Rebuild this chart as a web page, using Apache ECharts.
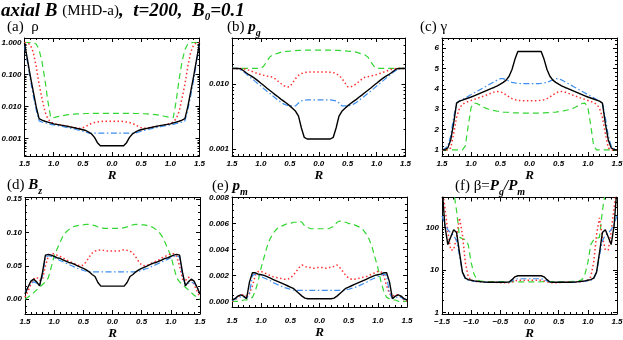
<!DOCTYPE html>
<html>
<head>
<meta charset="utf-8">
<script src="https://cdn.jsdelivr.net/npm/echarts@6/dist/echarts.min.js"></script>
<style>
  html, body { margin: 0; padding: 0; background: #fff; }
  #chart { width: 623px; height: 340px; }
</style>
</head>
<body>
<div id="chart"></div>
<script>
// radius grid shared by every panel
const R = [-1.5,-1.45,-1.4,-1.35,-1.3,-1.25,-1.2,-1.15,-1.1,-1.05,-1,-0.95,-0.9,-0.85,-0.8,-0.75,-0.7,-0.65,-0.6,-0.55,-0.5,-0.45,-0.4,-0.35,-0.3,-0.25,-0.2,-0.15,-0.1,-0.05,0,
  0.05,0.1,0.15,0.2,0.25,0.3,0.35,0.4,0.45,0.5,0.55,0.6,0.65,0.7,0.75,0.8,0.85,0.9,0.95,1,1.05,1.1,1.15,1.2,1.25,1.3,1.35,1.4,1.45,1.5];

// (a) density
const rhoBlack = [0.95,0.3,0.09,0.03,0.01,0.0042,0.0038,0.0035,0.0033,0.0031,0.0029,0.0028,0.0027,0.0026,0.0025,0.0024,0.0023,0.0022,0.0021,0.002,0.0019,0.0018,0.0016,0.0014,0.0011,0.00075,0.0006,0.0006,0.0006,0.0006,0.0006,
  0.0006,0.0006,0.0006,0.0006,0.00075,0.0011,0.0014,0.0016,0.0018,0.0019,0.002,0.0021,0.0022,0.0023,0.0024,0.0025,0.0026,0.0027,0.0028,0.0029,0.0031,0.0033,0.0035,0.0038,0.0042,0.01,0.03,0.09,0.3,0.95];
const rhoBlue = [0.8,0.25,0.07,0.022,0.008,0.0036,0.0033,0.0031,0.003,0.0028,0.0027,0.0026,0.0025,0.0024,0.0023,0.0022,0.0021,0.002,0.0019,0.0018,0.0017,0.0016,0.0015,0.0015,0.0015,0.0015,0.0015,0.0015,0.0015,0.0015,0.0015,
  0.0015,0.0015,0.0015,0.0015,0.0015,0.0015,0.0015,0.0015,0.0016,0.0017,0.0018,0.0019,0.002,0.0021,0.0022,0.0023,0.0024,0.0025,0.0026,0.0027,0.0028,0.003,0.0031,0.0033,0.0036,0.008,0.022,0.07,0.25,0.8];
const rhoRed = [1.0,0.97,0.85,0.5,0.18,0.05,0.018,0.007,0.0042,0.0033,0.003,0.0028,0.0027,0.0026,0.0025,0.0024,0.0023,0.0022,0.0022,0.0021,0.0022,0.0024,0.0027,0.003,0.0032,0.0033,0.0034,0.0035,0.0035,0.0035,0.0035,
  0.0035,0.0035,0.0035,0.0034,0.0033,0.0032,0.003,0.0027,0.0024,0.0022,0.0021,0.0022,0.0022,0.0023,0.0024,0.0025,0.0026,0.0027,0.0028,0.003,0.0033,0.0042,0.007,0.018,0.05,0.18,0.5,0.85,0.97,1.0];
const rhoGreen = [1.0,1.0,1.0,0.98,0.9,0.6,0.25,0.07,0.015,0.0045,0.0045,0.0048,0.005,0.0052,0.0054,0.0056,0.0057,0.0058,0.0059,0.006,0.006,0.0061,0.0061,0.0062,0.0062,0.0062,0.0062,0.0062,0.0062,0.0062,0.0062,
  0.0062,0.0062,0.0062,0.0062,0.0062,0.0062,0.0062,0.0061,0.0061,0.006,0.006,0.0059,0.0058,0.0057,0.0056,0.0054,0.0052,0.005,0.0048,0.0045,0.0045,0.015,0.07,0.25,0.6,0.9,0.98,1.0,1.0,1.0];

// (b) gas pressure
const pgBlack = [0.0174,0.0174,0.0174,0.0172,0.016,0.0148,0.0138,0.013,0.0121,0.0112,0.0103,0.0095,0.0087,0.008,0.0074,0.0068,0.0063,0.0058,0.0054,0.005,0.0046,0.0042,0.0038,0.0032,0.0021,0.0015,0.00142,0.00142,0.00142,0.00142,0.00142,
  0.00142,0.00142,0.00142,0.00142,0.0015,0.0021,0.0032,0.0038,0.0042,0.0046,0.005,0.0054,0.0058,0.0063,0.0068,0.0074,0.008,0.0087,0.0095,0.0103,0.0112,0.0121,0.013,0.0138,0.0148,0.016,0.0172,0.0174,0.0174,0.0174];
const pgBlue = [0.0174,0.0174,0.0172,0.0165,0.0155,0.0142,0.013,0.012,0.011,0.0101,0.0093,0.0085,0.0078,0.0072,0.0066,0.0061,0.0056,0.0052,0.0049,0.0047,0.0046,0.0046,0.0046,0.0051,0.0055,0.0056,0.0057,0.0057,0.0057,0.0057,0.0057,
  0.0057,0.0057,0.0057,0.0057,0.0056,0.0055,0.0051,0.0046,0.0046,0.0046,0.0047,0.0049,0.0052,0.0056,0.0061,0.0066,0.0072,0.0078,0.0085,0.0093,0.0101,0.011,0.012,0.013,0.0142,0.0155,0.0165,0.0172,0.0174,0.0174];
const pgRed = [0.0174,0.0174,0.0174,0.0174,0.0172,0.0168,0.0162,0.0156,0.015,0.0145,0.014,0.0136,0.0133,0.013,0.0128,0.012,0.011,0.0101,0.0094,0.009,0.0091,0.0105,0.0122,0.0136,0.0145,0.015,0.0152,0.0153,0.0153,0.0153,0.0153,
  0.0153,0.0153,0.0153,0.0152,0.015,0.0145,0.0136,0.0122,0.0105,0.0091,0.009,0.0094,0.0101,0.011,0.012,0.0128,0.013,0.0133,0.0136,0.014,0.0145,0.015,0.0156,0.0162,0.0168,0.0172,0.0174,0.0174,0.0174,0.0174];
const pgGreen = [0.0174,0.0174,0.0174,0.0174,0.0174,0.0174,0.0174,0.0174,0.0174,0.0174,0.0174,0.019,0.022,0.026,0.028,0.029,0.03,0.031,0.0315,0.032,0.0322,0.0325,0.0328,0.033,0.033,0.0332,0.0333,0.0333,0.0333,0.0333,0.0333,
  0.0333,0.0333,0.0333,0.0333,0.0332,0.033,0.033,0.0328,0.0325,0.0322,0.032,0.0315,0.031,0.03,0.029,0.028,0.026,0.022,0.019,0.0174,0.0174,0.0174,0.0174,0.0174,0.0174,0.0174,0.0174,0.0174,0.0174,0.0174];

// (c) Lorentz factor
const gamBlack = [1.0,1.02,1.1,1.5,2.3,3.3,3.4,3.45,3.5,3.55,3.6,3.66,3.72,3.78,3.84,3.9,3.96,4.02,4.08,4.15,4.23,4.32,4.43,4.62,4.95,5.45,5.84,5.84,5.84,5.84,5.84,
  5.84,5.84,5.84,5.84,5.45,4.95,4.62,4.43,4.32,4.23,4.15,4.08,4.02,3.96,3.9,3.84,3.78,3.72,3.66,3.6,3.55,3.5,3.45,3.4,3.3,2.3,1.5,1.1,1.02,1.0];
const gamBlue = [1.0,1.05,1.2,1.7,2.6,3.3,3.4,3.48,3.56,3.64,3.72,3.8,3.88,3.96,4.04,4.12,4.2,4.28,4.36,4.44,4.5,4.5,4.45,4.38,4.32,4.29,4.27,4.26,4.26,4.26,4.26,
  4.26,4.26,4.26,4.27,4.29,4.32,4.38,4.45,4.5,4.5,4.44,4.36,4.28,4.2,4.12,4.04,3.96,3.88,3.8,3.72,3.64,3.56,3.48,3.4,3.3,2.6,1.7,1.2,1.05,1.0];
const gamRed = [1.0,1.0,1.0,1.1,1.8,2.6,3.05,3.25,3.32,3.38,3.43,3.48,3.53,3.58,3.63,3.68,3.74,3.8,3.85,3.87,3.85,3.8,3.7,3.6,3.52,3.47,3.44,3.42,3.42,3.42,3.42,
  3.42,3.42,3.42,3.44,3.47,3.52,3.6,3.7,3.8,3.85,3.87,3.85,3.8,3.74,3.68,3.63,3.58,3.53,3.48,3.43,3.38,3.32,3.25,3.05,2.6,1.8,1.1,1.0,1.0,1.0];
const gamGreen = [1.0,1.0,1.0,1.0,1.0,1.0,1.0,1.0,1.2,2.2,3.1,3.3,3.28,3.2,3.12,3.05,3.0,2.96,2.93,2.9,2.88,2.86,2.85,2.84,2.83,2.82,2.82,2.81,2.81,2.81,2.81,
  2.81,2.81,2.81,2.82,2.82,2.83,2.84,2.85,2.86,2.88,2.9,2.93,2.96,3.0,3.05,3.12,3.2,3.28,3.3,3.1,2.2,1.2,1.0,1.0,1.0,1.0,1.0,1.0,1.0,1.0];

// (d) axial field
const bzBlack = [0.008,0.018,0.027,0.03,0.026,0.02,0.04,0.066,0.067,0.066,0.064,0.062,0.061,0.059,0.057,0.055,0.054,0.052,0.05,0.048,0.046,0.044,0.041,0.037,0.034,0.025,0.0197,0.0197,0.0197,0.0197,0.0197,
  0.0197,0.0197,0.0197,0.0197,0.025,0.034,0.037,0.041,0.044,0.046,0.048,0.05,0.052,0.054,0.055,0.057,0.059,0.061,0.062,0.064,0.066,0.067,0.066,0.04,0.02,0.026,0.03,0.027,0.018,0.008];
const bzBlue = [0.01,0.018,0.024,0.026,0.024,0.022,0.035,0.063,0.065,0.064,0.062,0.06,0.058,0.056,0.054,0.052,0.05,0.048,0.046,0.045,0.043,0.042,0.041,0.041,0.041,0.041,0.041,0.041,0.041,0.041,0.041,
  0.041,0.041,0.041,0.041,0.041,0.041,0.041,0.041,0.042,0.043,0.045,0.046,0.048,0.05,0.052,0.054,0.056,0.058,0.06,0.062,0.064,0.065,0.063,0.035,0.022,0.024,0.026,0.024,0.018,0.01];
const bzRed = [0.003,0.012,0.022,0.03,0.033,0.028,0.03,0.05,0.064,0.068,0.068,0.066,0.064,0.062,0.059,0.057,0.055,0.053,0.051,0.05,0.051,0.056,0.063,0.069,0.072,0.073,0.074,0.073,0.072,0.072,0.072,
  0.072,0.072,0.073,0.074,0.073,0.072,0.069,0.063,0.056,0.051,0.05,0.051,0.053,0.055,0.057,0.059,0.062,0.064,0.066,0.068,0.068,0.064,0.05,0.03,0.028,0.033,0.03,0.022,0.012,0.003];
const bzGreen = [0.0,0.003,0.006,0.01,0.014,0.018,0.022,0.026,0.032,0.048,0.065,0.075,0.085,0.094,0.1,0.104,0.107,0.109,0.11,0.111,0.111,0.112,0.112,0.111,0.11,0.108,0.107,0.106,0.106,0.106,0.106,
  0.106,0.106,0.106,0.107,0.108,0.11,0.111,0.112,0.112,0.111,0.111,0.11,0.109,0.107,0.104,0.1,0.094,0.085,0.075,0.065,0.048,0.032,0.026,0.022,0.018,0.014,0.01,0.006,0.003,0.0];

// (e) magnetic pressure
const pmBlack = [0.0001,0.0002,0.0004,0.0005,0.0004,0.0002,0.0015,0.0022,0.0022,0.0021,0.00205,0.002,0.0019,0.0018,0.0017,0.0016,0.0015,0.0014,0.0013,0.0012,0.0011,0.001,0.0008,0.0006,0.0004,0.00025,0.0002,0.0002,0.0002,0.0002,0.0002,
  0.0002,0.0002,0.0002,0.0002,0.00025,0.0004,0.0006,0.0008,0.001,0.0011,0.0012,0.0013,0.0014,0.0015,0.0016,0.0017,0.0018,0.0019,0.002,0.00205,0.0021,0.0022,0.0022,0.0015,0.0002,0.0004,0.0005,0.0004,0.0002,0.0001];
const pmBlue = [0.00005,0.00016,0.0003,0.00034,0.0003,0.00024,0.0006,0.002,0.0021,0.002,0.0019,0.0018,0.0017,0.0016,0.00145,0.00135,0.00125,0.00115,0.00106,0.001,0.00093,0.00088,0.00085,0.00085,0.00085,0.00085,0.00085,0.00085,0.00085,0.00085,0.00085,
  0.00085,0.00085,0.00085,0.00085,0.00085,0.00085,0.00085,0.00085,0.00088,0.00093,0.001,0.00106,0.00115,0.00125,0.00135,0.00145,0.0016,0.0017,0.0018,0.0019,0.002,0.0021,0.002,0.0006,0.00024,0.0003,0.00034,0.0003,0.00016,0.00005];
const pmRed = [0.0,0.0001,0.0003,0.0005,0.0005,0.0004,0.0006,0.0012,0.002,0.0023,0.0023,0.0022,0.0021,0.002,0.0019,0.00185,0.0018,0.00175,0.0017,0.0017,0.0018,0.002,0.0023,0.0026,0.0028,0.0027,0.0026,0.0026,0.00255,0.0026,0.0026,
  0.0026,0.00255,0.0026,0.0026,0.0027,0.0028,0.0026,0.0023,0.002,0.0018,0.0017,0.0017,0.00175,0.0018,0.00185,0.0019,0.002,0.0021,0.0022,0.0023,0.0023,0.002,0.0012,0.0006,0.0004,0.0005,0.0005,0.0003,0.0001,0.0];
const pmGreen = [0.0,0.0,0.0,0.0,0.0001,0.0001,0.0002,0.0003,0.0008,0.0016,0.0026,0.0034,0.0042,0.0048,0.0052,0.0055,0.0057,0.0058,0.0059,0.006,0.006,0.0061,0.0061,0.0062,0.0061,0.0058,0.0057,0.0056,0.0056,0.0056,0.0056,
  0.0056,0.0056,0.0056,0.0057,0.0058,0.0061,0.0062,0.0061,0.0061,0.006,0.006,0.0059,0.0058,0.0057,0.0055,0.0052,0.0048,0.0042,0.0034,0.0026,0.0016,0.0008,0.0003,0.0002,0.0001,0.0001,0.0,0.0,0.0,0.0];

// (f) plasma beta
const betaBlack = [900,110,40,60,90,77,26,9,6.5,6.0,5.8,5.6,5.5,5.4,5.3,5.25,5.2,5.2,5.2,5.2,5.2,5.2,5.2,5.3,6.0,7.0,7.4,7.4,7.4,7.4,7.4,
  7.4,7.4,7.4,7.4,7.0,6.0,5.3,5.2,5.2,5.2,5.2,5.2,5.2,5.2,5.25,5.3,5.4,5.5,5.6,5.8,6.0,6.5,9,26,77,90,60,40,110,900];
const betaBlue = [190,120,90,75,65,50,22,9,6.2,5.8,5.6,5.5,5.4,5.3,5.25,5.2,5.2,5.2,5.2,5.2,5.2,5.2,5.2,5.2,5.6,6.1,6.3,6.3,6.3,6.3,6.3,
  6.3,6.3,6.3,6.3,6.1,5.6,5.2,5.2,5.2,5.2,5.2,5.2,5.2,5.2,5.2,5.25,5.3,5.4,5.5,5.6,5.8,6.2,9,22,50,65,75,90,120,190];
const betaRed = [900,300,80,30,30,60,170,70,15,7,5.8,5.5,5.4,5.35,5.3,5.25,5.2,5.2,5.2,5.15,5.1,5.1,5.1,5.1,5.3,5.6,5.8,5.8,5.8,5.8,5.8,
  5.8,5.8,5.8,5.8,5.6,5.3,5.1,5.1,5.1,5.1,5.15,5.2,5.2,5.2,5.25,5.3,5.35,5.4,5.5,5.8,7,15,70,170,60,30,30,80,300,900];
const betaGreen = [900,900,900,900,700,250,60,55,52,40,15,8,6,5.6,5.5,5.45,5.4,5.4,5.4,5.4,5.4,5.4,5.4,5.4,5.4,5.4,5.35,5.3,5.3,5.3,5.3,
  5.3,5.3,5.3,5.35,5.4,5.4,5.4,5.4,5.4,5.4,5.4,5.4,5.4,5.4,5.45,5.5,5.6,6,8,15,40,52,55,60,250,700,900,900,900,900];

const chart = echarts.init(document.getElementById('chart'));

const tickFont = { fontFamily: 'Liberation Sans', fontStyle: 'italic', fontWeight: 'bold', fontSize: 8, color: '#000' };
const black = { color: '#000' };

// minor tick helpers (log decades / linear steps)
function logMinors(lo, hi) {
  const out = [];
  for (let d = Math.floor(lo); d <= Math.ceil(hi); d++) {
    for (let k = 2; k <= 9; k++) {
      const v = d + Math.log10(k);
      if (v > lo && v < hi) out.push(v);
    }
  }
  return out;
}
function linTicks(lo, hi, step) {
  const out = [];
  for (let v = Math.ceil(lo / step - 1e-9) * step; v <= hi + 1e-12; v += step) out.push(+v.toFixed(6));
  return out;
}

const panels = [
  { grid: { left: 24.5, top: 38, width: 175, height: 118 }, log: true, min: -3.54, max: 0.14,
    major: [-3, -2, -1, 0], fmt: v => Math.pow(10, v).toFixed(3), data: [rhoGreen, rhoRed, rhoBlue, rhoBlack] },
  { grid: { left: 232, top: 38, width: 173.5, height: 118 }, log: true, min: -3.11, max: -1.29,
    major: [-3, -2], fmt: v => Math.pow(10, v).toFixed(3), data: [pgGreen, pgRed, pgBlue, pgBlack] },
  { grid: { left: 442, top: 38, width: 175, height: 118 }, log: false, min: 0.7, max: 6.5,
    major: [1, 2, 3, 4, 5, 6], minorStep: 0.2, fmt: v => String(v), data: [gamGreen, gamRed, gamBlue, gamBlack] },
  { grid: { left: 25, top: 197.5, width: 175, height: 116.5 }, log: false, min: -0.022, max: 0.152,
    major: [0, 0.05, 0.1, 0.15], minorStep: 0.01, fmt: v => v.toFixed(2), data: [bzGreen, bzRed, bzBlue, bzBlack] },
  { grid: { left: 232, top: 197, width: 175, height: 110 }, log: false, min: -0.00044, max: 0.00805, labelGap: 10,
    major: [0, 0.002, 0.004, 0.006, 0.008], minorStep: 0.0005, fmt: v => v.toFixed(3), data: [pmGreen, pmRed, pmBlue, pmBlack] },
  { grid: { left: 442, top: 197.5, width: 175, height: 116.5 }, log: true, min: -0.03, max: 2.71, signed: true,
    major: [0, 1, 2], fmt: v => String(Math.round(Math.pow(10, v))), data: [betaGreen, betaRed, betaBlue, betaBlack] }
];

const lineStyles = [
  { color: '#33d633', width: 1.2, type: [6, 4] },
  { color: '#ff3030', width: 1.5, type: [1.5, 2.5] },
  { color: '#3d8ef0', width: 1.2, type: [6, 2.5, 1.5, 2.5] },
  { color: '#000', width: 1.4, type: 'solid' }
];

const grid = [], xAxis = [], yAxis = [], series = [];

panels.forEach((p, i) => {
  grid.push(Object.assign({ outerBoundsMode: 'none', containLabel: false }, p.grid));

  const minors = p.log ? logMinors(p.min, p.max)
    : linTicks(p.min, p.max, p.minorStep).filter(v => !p.major.some(m => Math.abs(m - v) < p.minorStep / 10));
  const gap = p.labelGap || 4;

  const xBase = {
    gridIndex: i, type: 'value', min: -1.5, max: 1.5, interval: 0.5,
    axisLine: { show: true, onZero: false, lineStyle: { color: '#000', width: 1 } },
    axisTick: { show: true, inside: true, length: 4, lineStyle: black },
    minorTick: { show: true, splitNumber: 5, length: 2, lineStyle: black },
    splitLine: { show: false }, minorSplitLine: { show: false }
  };
  xAxis.push(Object.assign({}, xBase, {
    position: 'bottom',
    axisLabel: Object.assign({}, tickFont, {
      margin: gap, interval: 0, hideOverlap: false,
      formatter: v => p.signed ? (v < 0 ? '\u2212' + (-v).toFixed(1) : v.toFixed(1)) : Math.abs(v).toFixed(1)
    }),
    name: 'R', nameLocation: 'middle', nameGap: gap + 8,
    nameTextStyle: { fontFamily: 'Liberation Serif', fontStyle: 'italic', fontWeight: 'bold', fontSize: 13, color: '#000' }
  }));
  xAxis.push(Object.assign({}, xBase, { position: 'top', axisLabel: { show: false } }));

  const yBase = {
    gridIndex: i, type: 'value', min: p.min, max: p.max,
    splitLine: { show: false }, axisLabel: { show: false }
  };
  ['left', 'right'].forEach(side => {
    yAxis.push(Object.assign({}, yBase, {
      position: side,
      axisLine: { show: true, onZero: false, lineStyle: { color: '#000', width: 1 } },
      axisTick: { show: true, inside: true, length: 4, lineStyle: black, customValues: p.major },
      axisLabel: side === 'left'
        ? Object.assign({}, tickFont, { show: true, margin: 3, hideOverlap: false, customValues: p.major, formatter: p.fmt })
        : { show: false }
    }));
    yAxis.push(Object.assign({}, yBase, {
      position: side,
      axisLine: { show: false, onZero: false },
      axisTick: { show: true, inside: true, length: 2, lineStyle: black, customValues: minors }
    }));
  });

  p.data.forEach((vals, k) => {
    series.push({
      type: 'line', xAxisIndex: 2 * i, yAxisIndex: 4 * i,
      data: R.map((r, j) => [r, p.log ? Math.log10(vals[j]) : vals[j]]),
      symbol: 'none', clip: true, silent: true, z: 2 + k,
      lineStyle: lineStyles[k]
    });
  });
});

const serif = 'Liberation Serif';
const rich = {
  n: { fontFamily: serif, fontSize: 15, lineHeight: 22, verticalAlign: 'middle' },
  bi: { fontFamily: serif, fontSize: 15, fontStyle: 'italic', fontWeight: 'bold', lineHeight: 22, verticalAlign: 'middle' },
  sb: { fontFamily: serif, fontSize: 10, fontStyle: 'italic', fontWeight: 'bold', lineHeight: 10, verticalAlign: 'bottom' },
  tbi: { fontFamily: serif, fontSize: 19, fontStyle: 'italic', fontWeight: 'bold', lineHeight: 24, verticalAlign: 'middle' },
  tn: { fontFamily: serif, fontSize: 15, lineHeight: 24, verticalAlign: 'middle' },
  tsb: { fontFamily: serif, fontSize: 11, fontStyle: 'italic', fontWeight: 'bold', lineHeight: 11, verticalAlign: 'bottom' }
};
function label(x, y, text) {
  return { type: 'text', x: x, y: y, silent: true, style: { text: text, rich: rich, align: 'left', verticalAlign: 'middle', fill: '#000' } };
}

chart.setOption({
  animation: false,
  backgroundColor: '#fff',
  grid: grid, xAxis: xAxis, yAxis: yAxis, series: series,
  graphic: [
    label(1, 11, '{tbi|axial B }{tn|(MHD-a)}{tbi|,  t=200,  B}{tsb|0}{tbi|=0.1}'),
    label(7, 27, '{n|(a)  \u03c1}'),
    label(227, 27, '{n|(b) }{bi|p}{sb|g}'),
    label(420, 27, '{n|(c) \u03b3}'),
    label(7, 185, '{n|(d) }{bi|B}{sb|z}'),
    label(212, 186, '{n|(e) }{bi|p}{sb|m}'),
    label(455, 186, '{n|(f) \u03b2=}{bi|P}{sb|g}{bi|/P}{sb|m}')
  ]
});
</script>
</body>
</html>
